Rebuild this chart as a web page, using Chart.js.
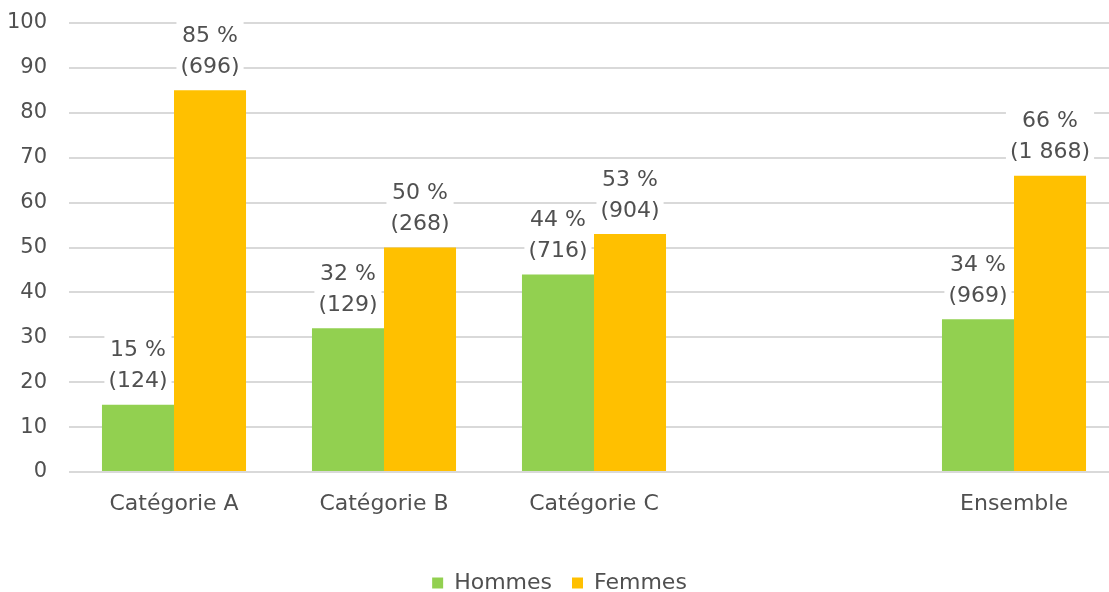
<!DOCTYPE html>
<html lang="fr">
<head>
<meta charset="utf-8">
<title>Hommes et femmes par catégorie</title>
<script src="https://cdn.jsdelivr.net/npm/chart.js@4.4.1/dist/chart.umd.min.js"></script>
<style>
  html, body { margin: 0; padding: 0; background: #ffffff; overflow: hidden; }
  #wrap { position: absolute; left: 0; top: 0; width: 1122px; height: 592px; }
</style>
</head>
<body>
<div id="wrap"><canvas id="chart" width="1122" height="592"></canvas></div>
<script>
// Categories (the empty slot separates the groups from the overall total)
const categories = ['Catégorie A', 'Catégorie B', 'Catégorie C', '', 'Ensemble'];

// Shares in percent
const hommesPct = [15, 32, 44, null, 34];
const femmesPct = [85, 50, 53, null, 66];

// Headcounts shown under each percentage
const hommesCount = [124, 129, 716, null, 969];
const femmesCount = [696, 268, 904, null, 1868];

// Y axis ticks
const yTicks = [0, 10, 20, 30, 40, 50, 60, 70, 80, 90, 100];

const FONT = '"DejaVu Sans", "Liberation Sans", sans-serif';
const TEXT = '#505050';

function fmtCount(n) {
  return n.toString().replace(/\B(?=(\d{3})+(?!\d))/g, ' ');
}

// Two-line value labels above each bar, on a white box over the gridlines
const valueLabels = {
  id: 'valueLabels',
  afterDatasetsDraw(chart) {
    const ctx = chart.ctx;
    ctx.save();
    ctx.font = '22px ' + FONT;
    ctx.textAlign = 'center';
    ctx.textBaseline = 'middle';
    chart.data.datasets.forEach((ds, di) => {
      const meta = chart.getDatasetMeta(di);
      meta.data.forEach((bar, i) => {
        const v = ds.data[i];
        if (v === null || v === undefined) return;
        const l1 = v + ' %';
        const l2 = '(' + fmtCount(ds.counts[i]) + ')';
        const y2 = bar.y - 23;
        const y1 = y2 - 31;
        const w = Math.max(ctx.measureText(l1).width, ctx.measureText(l2).width) + 8;
        ctx.fillStyle = '#ffffff';
        ctx.fillRect(bar.x - w / 2, y1 - 15, w, (y2 - y1) + 30);
        ctx.fillStyle = TEXT;
        ctx.fillText(l1, bar.x, y1);
        ctx.fillText(l2, bar.x, y2);
      });
    });
    ctx.restore();
  }
};

new Chart(document.getElementById('chart'), {
  type: 'bar',
  data: {
    labels: categories,
    datasets: [
      { label: 'Hommes', data: hommesPct, counts: hommesCount, backgroundColor: '#92D050' },
      { label: 'Femmes', data: femmesPct, counts: femmesCount, backgroundColor: '#FFC000' }
    ]
  },
  options: {
    responsive: false,
    animation: false,
    devicePixelRatio: 1,
    layout: { padding: { top: 23, right: 3, left: 0, bottom: -12 } },
    datasets: { bar: { categoryPercentage: 0.686, barPercentage: 1.0 } },
    scales: {
      x: {
        grid: { display: false },
        border: { display: false },
        ticks: { color: TEXT, font: { family: FONT, size: 22 }, padding: 11, maxRotation: 0, autoSkip: false },
        afterFit(scale) { scale.height = 80; }
      },
      y: {
        min: 0,
        max: 100,
        afterBuildTicks(scale) { scale.ticks = yTicks.map(v => ({ value: v })); },
        grid: { color: '#d9d9d9', lineWidth: 2, drawTicks: false },
        border: { display: false },
        ticks: { color: TEXT, font: { family: FONT, size: 21 }, padding: 22 },
        afterFit(scale) {
          scale.width = 69;
          scale.paddingTop = 0;
          scale.paddingBottom = 0;
        }
      }
    },
    plugins: {
      legend: {
        position: 'bottom',
        labels: {
          color: TEXT,
          font: { family: FONT, size: 22 },
          boxWidth: 11,
          boxHeight: 11,
          padding: 20
        }
      },
      tooltip: { enabled: false }
    }
  },
  plugins: [valueLabels]
});
</script>
</body>
</html>
